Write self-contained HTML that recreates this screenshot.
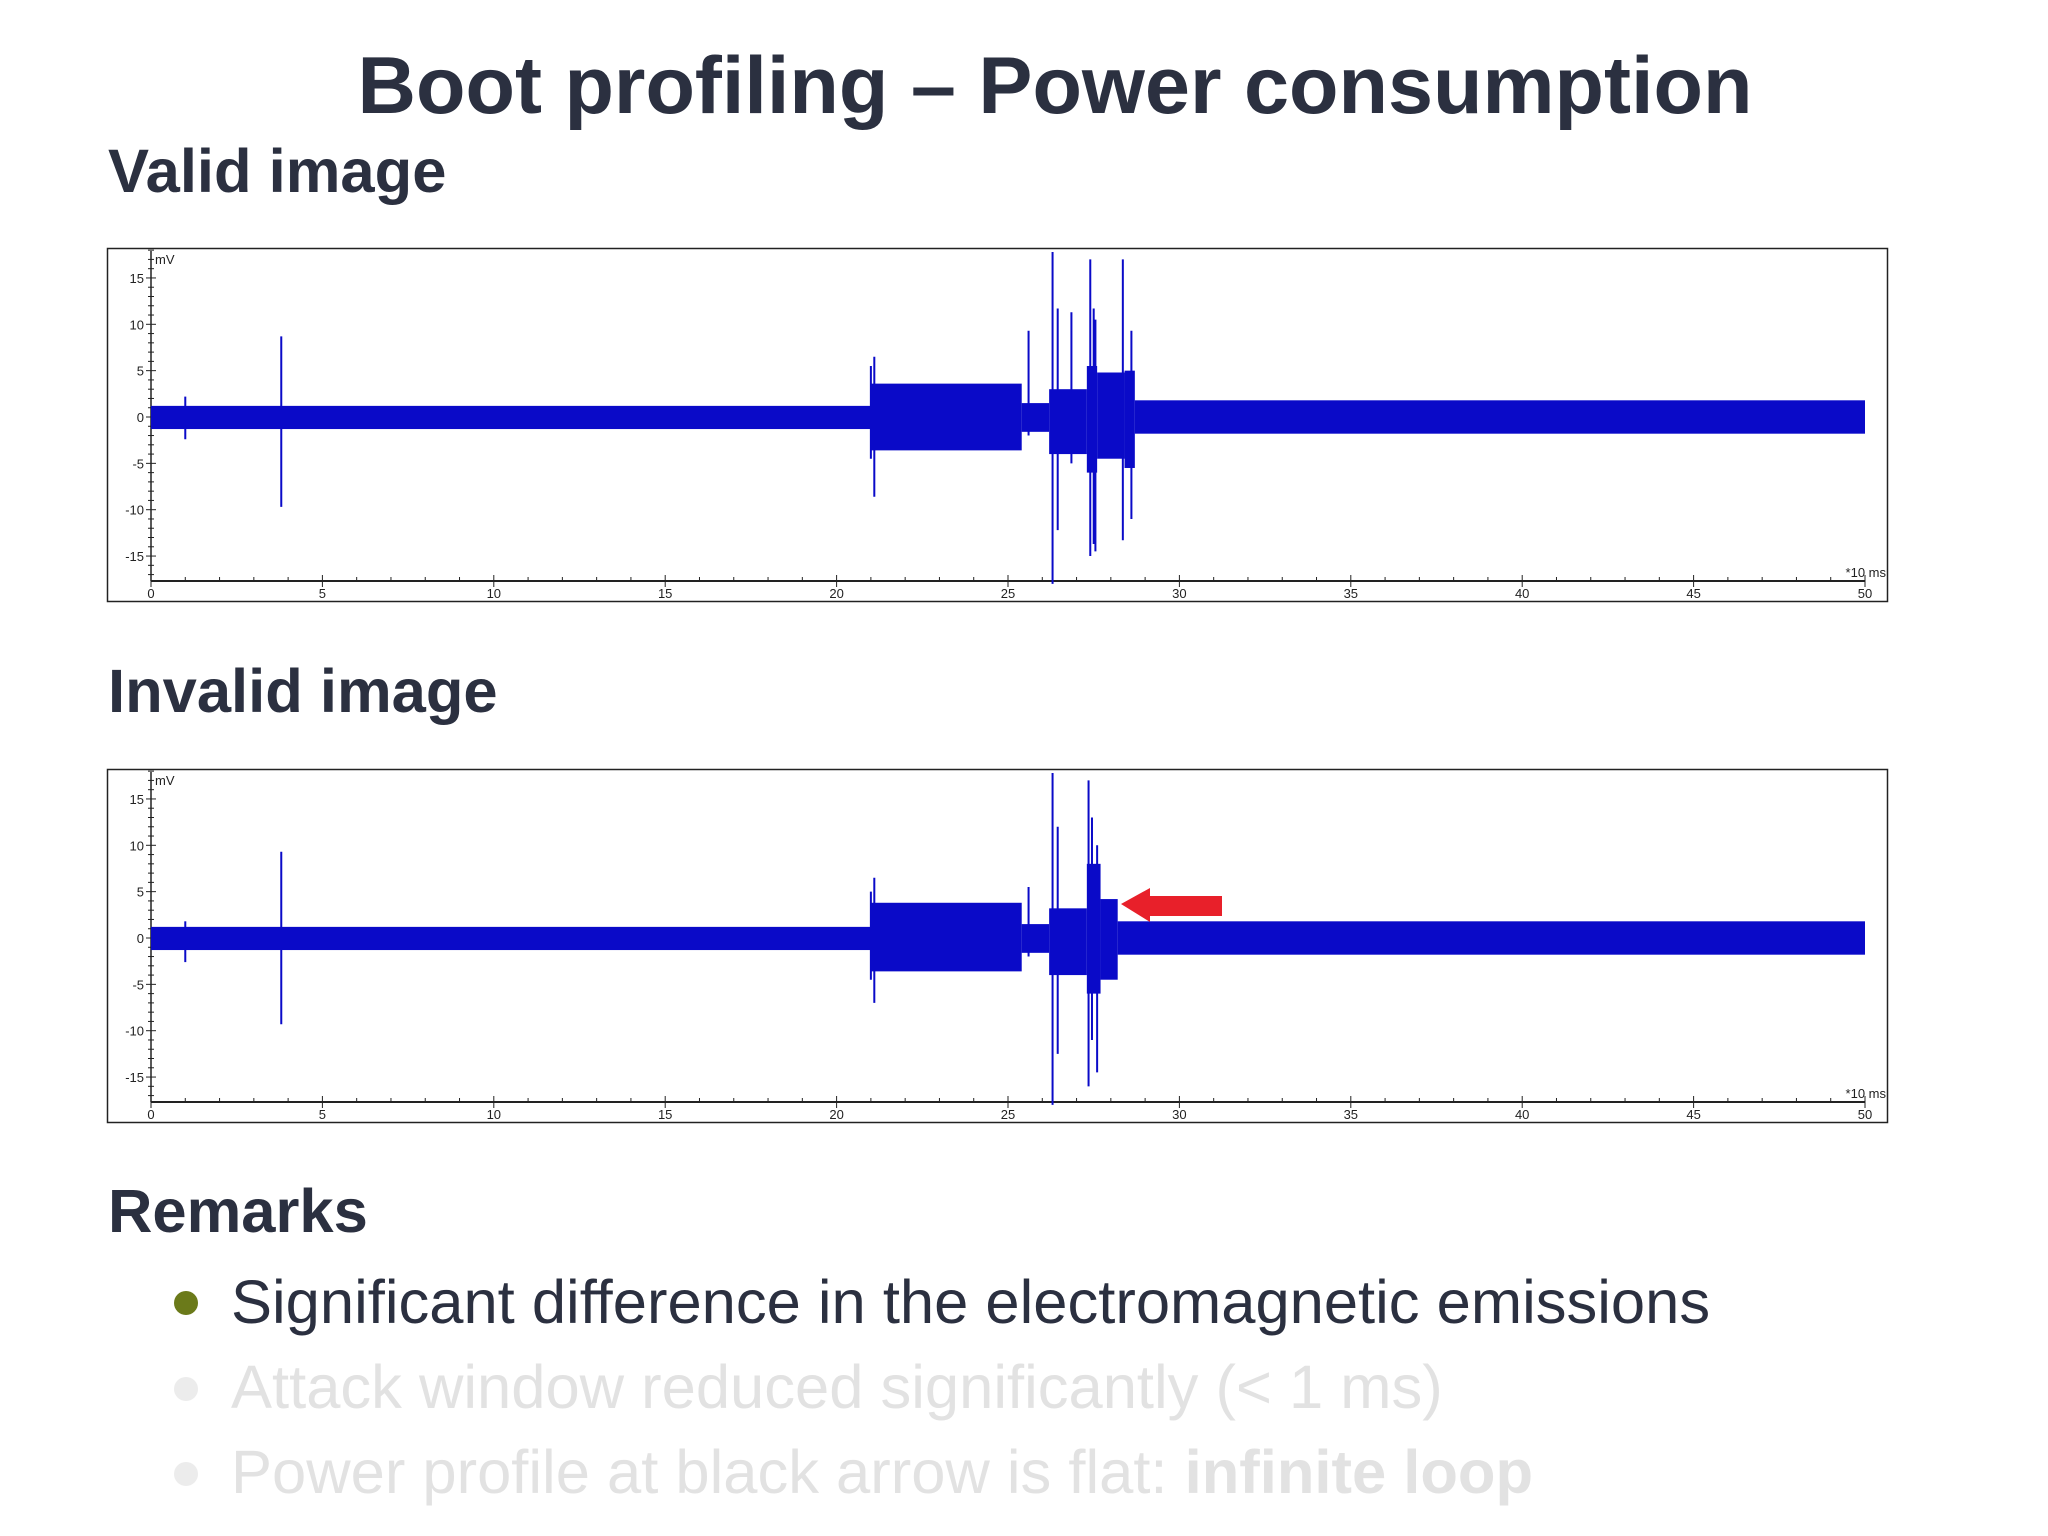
<!DOCTYPE html>
<html><head><meta charset="utf-8"><style>
body{margin:0;width:2048px;height:1536px;background:#fff;position:relative;overflow:hidden;font-family:"Liberation Sans",sans-serif;color:#2b3040}
.t{position:absolute;white-space:nowrap;font-weight:bold}
</style></head><body>
<div class="t" style="left:0;width:2110px;text-align:center;top:40px;font-size:81px">Boot profiling – Power consumption</div>
<div class="t" style="left:108px;top:136px;font-size:61.5px">Valid image</div>
<div class="t" style="left:108px;top:656px;font-size:61.5px">Invalid image</div>
<div class="t" style="left:108px;top:1176px;font-size:61.5px">Remarks</div>
<div style="position:absolute;left:174px;top:1291px;width:24px;height:24px;border-radius:50%;background:#6b7a1a"></div>
<div style="position:absolute;left:174px;top:1377px;width:24px;height:24px;border-radius:50%;background:#ececec"></div>
<div style="position:absolute;left:174px;top:1462px;width:24px;height:24px;border-radius:50%;background:#ececec"></div>
<div class="t" style="left:231px;top:1267px;font-size:61.5px;font-weight:normal">Significant difference in the electromagnetic emissions</div>
<div class="t" style="left:231px;top:1352px;font-size:61.5px;font-weight:normal;color:#e2e2e2">Attack window reduced significantly (&lt; 1 ms)</div>
<div class="t" style="left:231px;top:1437px;font-size:61.5px;font-weight:normal;color:#e2e2e2">Power profile at black arrow is flat: <b>infinite loop</b></div>
<svg id="svg" width="2048" height="1536" style="position:absolute;left:0;top:0"></svg>
<script>
// Valid image: envelope segments [xStart, xEnd, upper, lower]
const validBands=[[0,21,1.2,-1.3],[21,25.4,3.6,-3.6],[25.4,26.2,1.5,-1.6],[26.2,27.3,3.0,-4.0],[27.3,27.6,5.5,-6],[27.6,28.4,4.8,-4.5],[28.4,28.7,5.0,-5.5],[28.7,50,1.8,-1.8]];
const validSpikes=[[1,2.2,-2.4],[3.8,8.7,-9.7],[21.0,5.5,-4.5],[21.1,6.5,-8.6],[25.6,9.3,-2],[26.3,17.8,-18],[26.45,11.7,-12.2],[26.85,11.3,-5],[27.4,17,-15],[27.5,11.7,-13.7],[27.55,10.5,-14.5],[28.35,17,-13.3],[28.6,9.3,-11]];
// Invalid image
const invalidBands=[[0,21,1.2,-1.3],[21,25.4,3.8,-3.6],[25.4,26.2,1.5,-1.6],[26.2,27.3,3.2,-4.0],[27.3,27.7,8,-6],[27.7,28.2,4.2,-4.5],[28.2,50,1.8,-1.8]];
const invalidSpikes=[[1,1.8,-2.6],[3.8,9.3,-9.3],[21.0,5.0,-4.5],[21.1,6.5,-7],[25.6,5.5,-2],[26.3,17.8,-18],[26.45,12,-12.5],[27.35,17,-16],[27.45,13,-11],[27.6,10,-14.5]];
const yTicks=[-15,-10,-5,0,5,10,15];
const xTicks=[0,5,10,15,20,25,30,35,40,45,50];
const NS='http://www.w3.org/2000/svg';
const svg=document.getElementById('svg');
function mk(tag,attrs,parent){const e=document.createElementNS(NS,tag);for(const k in attrs)e.setAttribute(k,attrs[k]);(parent||svg).appendChild(e);return e;}
function chart(top,bands,spikes,name){
  const g=mk('g',{});
  
  
  const x0=151,xs=(1865-151)/50,y0=top+169,ys=9.27,axisY=top+333;
  const X=v=>x0+v*xs,Y=v=>y0-v*ys;
  const frame=mk('rect',{x:107.5,y:top+0.5,width:1780,height:353,fill:'#fff',stroke:'#222','stroke-width':1.5},g);
  
  
  mk('line',{x1:x0,x2:x0,y1:top+3,y2:axisY,stroke:'#222','stroke-width':1.5},g);
  mk('line',{x1:x0,x2:X(50),y1:axisY,y2:axisY,stroke:'#222','stroke-width':2},g);
  for(let v=-18;v<=18;v++){const y=Y(v);if(y>axisY)continue;const maj=v%5===0;mk('line',{x1:x0-(maj?5:3),x2:x0+(maj?5:3),y1:y,y2:y,stroke:'#222','stroke-width':1},g);}
  yTicks.forEach(v=>{const t=mk('text',{x:x0-7,y:Y(v)+5,'text-anchor':'end','font-size':13,fill:'#222'},g);t.textContent=v;
    
    });
  for(let v=0;v<=50;v++){const maj=v%5===0;mk('line',{x1:X(v),x2:X(v),y1:axisY-(maj?6:4),y2:axisY+(maj?6:0),stroke:'#222','stroke-width':1},g);}
  xTicks.forEach(v=>{const t=mk('text',{x:X(v),y:axisY+17,'text-anchor':'middle','font-size':13,fill:'#222'},g);t.textContent=v;
    
    });
  const u=mk('text',{x:x0+4,y:top+16,'font-size':13,fill:'#222'},g);u.textContent='mV';
  
  
  const xu=mk('text',{x:1886,y:axisY-4,'text-anchor':'end','font-size':13,fill:'#222'},g);xu.textContent='*10 ms';
  
  
  bands.forEach(b=>{const r=mk('rect',{x:X(b[0]),y:Y(b[2]),width:X(b[1])-X(b[0]),height:Y(b[3])-Y(b[2]),fill:'#0a0ac8'},g);
    
    });
  spikes.forEach(s=>{const l=mk('line',{x1:X(s[0]),x2:X(s[0]),y1:Y(s[1]),y2:Y(s[2]),stroke:'#0a0ac8','stroke-width':2},g);
    
    });
}
chart(248,validBands,validSpikes,'valid-image-chart');
chart(769,invalidBands,invalidSpikes,'invalid-image-chart');
const arrow=mk('polygon',{points:'1121,904 1150,888 1150,896 1222,896 1222,916 1150,916 1150,922',fill:'#e8202a'});


</script>
</body></html>
